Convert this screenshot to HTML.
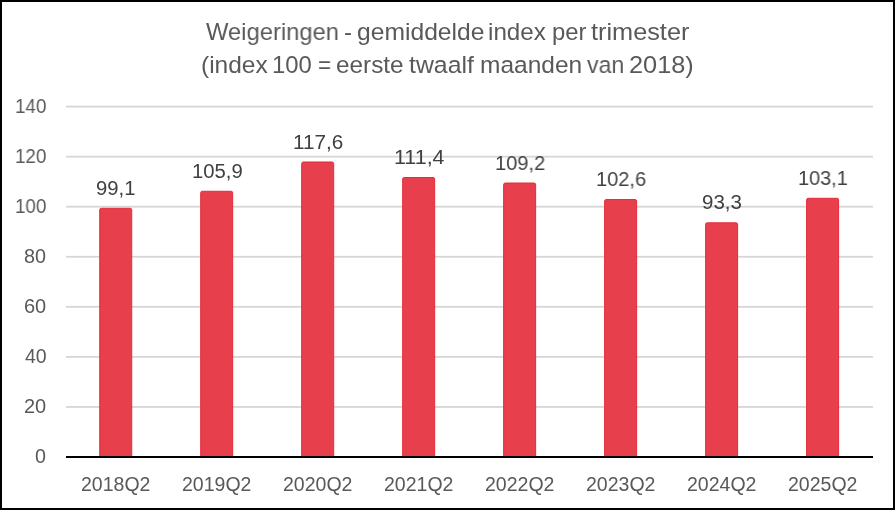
<!DOCTYPE html>
<html><head><meta charset="utf-8"><style>
html,body{margin:0;padding:0;}
body{width:895px;height:510px;position:relative;overflow:hidden;background:#fff;font-family:"Liberation Sans",sans-serif;}
.frame{position:absolute;left:0;top:0;width:895px;height:510px;box-sizing:border-box;border:2px solid #000;}
.plot{position:absolute;left:0;top:0;}
.ax{position:absolute;left:66px;width:807px;top:456px;height:2px;background:#000;}
.b{position:absolute;width:33px;box-sizing:border-box;background:#e83f4d;border:1px solid #e52c3b;border-bottom:none;border-radius:1px 1px 0 0;}
.t,.yl,.dl,.cl{position:absolute;white-space:nowrap;line-height:1;transform-origin:0 0;will-change:transform;}
.dl{font-size:20.3px;color:#404040;}
.cl{font-size:19.5px;color:#595959;}
.yl{font-size:19.5px;color:#595959;}
.t{font-size:23.86px;color:#595959;}
</style></head><body>
<svg class="plot" width="895" height="510" viewBox="0 0 895 510" shape-rendering="geometricPrecision"><rect x="66" y="406.04" width="807" height="1.8" fill="#d6d6d6"/><rect x="66" y="355.99" width="807" height="1.8" fill="#d6d6d6"/><rect x="66" y="305.93" width="807" height="1.8" fill="#d6d6d6"/><rect x="66" y="255.87" width="807" height="1.8" fill="#d6d6d6"/><rect x="66" y="205.81" width="807" height="1.8" fill="#d6d6d6"/><rect x="66" y="155.76" width="807" height="1.8" fill="#d6d6d6"/><rect x="66" y="105.70" width="807" height="1.8" fill="#d6d6d6"/><path d="M99.72 457 V209.90 Q99.72 208.30 101.32 208.30 H130.12 Q131.72 208.30 131.72 209.90 V457 Z" fill="#e83f4d" stroke="#e52c3b" stroke-width="1"/><path d="M200.70 457 V192.88 Q200.70 191.28 202.30 191.28 H231.10 Q232.70 191.28 232.70 192.88 V457 Z" fill="#e83f4d" stroke="#e52c3b" stroke-width="1"/><path d="M301.68 457 V163.59 Q301.68 161.99 303.28 161.99 H332.08 Q333.68 161.99 333.68 163.59 V457 Z" fill="#e83f4d" stroke="#e52c3b" stroke-width="1"/><path d="M402.66 457 V179.11 Q402.66 177.51 404.26 177.51 H433.06 Q434.66 177.51 434.66 179.11 V457 Z" fill="#e83f4d" stroke="#e52c3b" stroke-width="1"/><path d="M503.64 457 V184.62 Q503.64 183.02 505.24 183.02 H534.04 Q535.64 183.02 535.64 184.62 V457 Z" fill="#e83f4d" stroke="#e52c3b" stroke-width="1"/><path d="M604.62 457 V201.14 Q604.62 199.54 606.22 199.54 H635.02 Q636.62 199.54 636.62 201.14 V457 Z" fill="#e83f4d" stroke="#e52c3b" stroke-width="1"/><path d="M705.60 457 V224.41 Q705.60 222.81 707.20 222.81 H736.00 Q737.60 222.81 737.60 224.41 V457 Z" fill="#e83f4d" stroke="#e52c3b" stroke-width="1"/><path d="M806.58 457 V199.89 Q806.58 198.29 808.18 198.29 H836.98 Q838.58 198.29 838.58 199.89 V457 Z" fill="#e83f4d" stroke="#e52c3b" stroke-width="1"/><rect x="66" y="456" width="807" height="2" fill="#000"/></svg><div class="t" style="left:206.20px;top:20px;transform:scaleX(0.9956)">Weigeringen</div><div class="t" style="left:344.10px;top:20px;transform:scaleX(1.0017)">-</div><div class="t" style="left:356.57px;top:20px;transform:scaleX(1.0330)">gemiddelde</div><div class="t" style="left:488.28px;top:20px;transform:scaleX(1.0144)">index</div><div class="t" style="left:552.02px;top:20px;transform:scaleX(0.9864)">per</div><div class="t" style="left:591.38px;top:20px;transform:scaleX(1.0603)">trimester</div><div class="t" style="left:200.96px;top:53px;transform:scaleX(1.0270)">(index</div><div class="t" style="left:272.02px;top:53px;transform:scaleX(0.9909)">100</div><div class="t" style="left:317.87px;top:53px;transform:scaleX(0.9412)">=</div><div class="t" style="left:336.48px;top:53px;transform:scaleX(1.0188)">eerste</div><div class="t" style="left:409.18px;top:53px;transform:scaleX(1.0404)">twaalf</div><div class="t" style="left:480.06px;top:53px;transform:scaleX(1.0266)">maanden</div><div class="t" style="left:587.20px;top:53px;transform:scaleX(0.9663)">van</div><div class="t" style="left:629.13px;top:53px;transform:scaleX(1.0616)">2018)</div><div class="dl" style="left:95.81px;top:178px;transform:scaleX(0.9947)">99,1</div><div class="dl" style="left:191.90px;top:161px;transform:scaleX(1.0000)">105,9</div><div class="dl" style="left:292.77px;top:132px;transform:scaleX(1.0192)">117,6</div><div class="dl" style="left:393.61px;top:147px;transform:scaleX(1.0591)">111,4</div><div class="dl" style="left:494.82px;top:153px;transform:scaleX(0.9896)">109,2</div><div class="dl" style="left:595.92px;top:169px;transform:scaleX(0.9876)">102,6</div><div class="dl" style="left:701.79px;top:192px;transform:scaleX(1.0106)">93,3</div><div class="dl" style="left:797.73px;top:168px;transform:scaleX(0.9814)">103,1</div><div class="cl" style="left:81.12px;top:475px;transform:scaleX(1.0000)">2018Q2</div><div class="cl" style="left:182.10px;top:475px;transform:scaleX(1.0000)">2019Q2</div><div class="cl" style="left:283.08px;top:475px;transform:scaleX(1.0000)">2020Q2</div><div class="cl" style="left:384.06px;top:475px;transform:scaleX(1.0000)">2021Q2</div><div class="cl" style="left:485.04px;top:475px;transform:scaleX(1.0000)">2022Q2</div><div class="cl" style="left:586.02px;top:475px;transform:scaleX(1.0000)">2023Q2</div><div class="cl" style="left:687.00px;top:475px;transform:scaleX(1.0000)">2024Q2</div><div class="cl" style="left:787.98px;top:475px;transform:scaleX(1.0000)">2025Q2</div><div class="yl" style="left:35.09px;top:447px;transform:scaleX(1.0108)">0</div><div class="yl" style="left:23.87px;top:397px;transform:scaleX(1.0251)">20</div><div class="yl" style="left:24.50px;top:347px;transform:scaleX(0.9951)">40</div><div class="yl" style="left:23.87px;top:297px;transform:scaleX(1.0251)">60</div><div class="yl" style="left:24.09px;top:247px;transform:scaleX(1.0149)">80</div><div class="yl" style="left:14.65px;top:197px;transform:scaleX(0.9637)">100</div><div class="yl" style="left:14.65px;top:147px;transform:scaleX(0.9637)">120</div><div class="yl" style="left:14.65px;top:97px;transform:scaleX(0.9637)">140</div>
<div class="frame"></div>
</body></html>
